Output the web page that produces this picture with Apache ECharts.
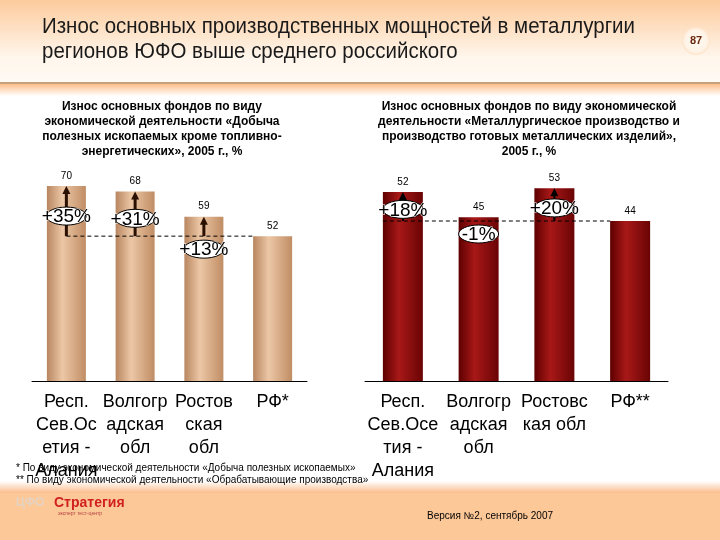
<!DOCTYPE html>
<html><head><meta charset="utf-8">
<script src="https://cdn.jsdelivr.net/npm/echarts@6/dist/echarts.min.js"></script>
<style>html,body{margin:0;padding:0;background:#fff}#c{width:720px;height:540px}</style>
</head><body><div id="c"></div>
<script>
// ---- data ----
const leftCategories = ['Респ.\nСев.Ос\nетия -\nАлания', 'Волгогр\nадская\nобл', 'Ростов\nская\nобл', 'РФ*'];
const leftValues = [70, 68, 59, 52];
const leftPct = ['+35%', '+31%', '+13%'];
const rightCategories = ['Респ.\nСев.Осе\nтия -\nАлания', 'Волгогр\nадская\nобл', 'Ростовс\nкая обл', 'РФ**'];
const rightValues = [52, 45, 53, 44];
const rightPct = ['+18%', '-1%', '+20%'];
const mainTitle = 'Износ основных производственных мощностей в металлургии\nрегионов ЮФО выше среднего российского';
const leftTitle = 'Износ основных фондов по виду\nэкономической деятельности «Добыча\nполезных ископаемых кроме топливно-\nэнергетических», 2005 г., %';
const rightTitle = 'Износ основных фондов по виду экономической\nдеятельности «Металлургическое производство и\nпроизводство готовых металлических изделий»,\n2005 г., %';
const footnotes = ['* По виду экономической деятельности «Добыча полезных ископаемых»', '** По виду экономической деятельности «Обрабатывающие производства»'];
const pageNumber = '87';
const versionText = 'Версия №2, сентябрь 2007';

const chart = echarts.init(document.getElementById('c'));
const FONT = 'Liberation Sans, Arial, sans-serif';

function barGrad(edge1, mid, edge2) {
  return new echarts.graphic.LinearGradient(0, 0, 1, 0, [
    {offset: 0, color: edge1}, {offset: 0.4, color: mid}, {offset: 1, color: edge2}
  ]);
}

const BW = [39, 40];

function annotData(values, pct) {
  const ref = values[values.length - 1];
  return pct.map((p, i) => [i, values[i], ref, p]);
}

function makeAnnot(gridIdx, values, pct, arrowW, arrowColor) {
  return {
    type: 'custom', xAxisIndex: gridIdx, yAxisIndex: gridIdx, z: 5, silent: true,
    data: annotData(values, pct),
    renderItem: function (params, api) {
      const top = api.coord([api.value(0), api.value(1)]);
      const base = api.coord([api.value(0), api.value(2)]);
      const len = base[1] - top[1];
      const children = [];
      if (Math.abs(len) > 6) {
        children.push({type: 'line', shape: {x1: top[0], y1: base[1], x2: top[0], y2: top[1] + 6},
          style: {stroke: arrowColor, lineWidth: arrowW}});
        children.push({type: 'polygon', shape: {points: [[top[0] - 4, top[1] + 8], [top[0] + 4, top[1] + 8], [top[0], top[1]]]},
          style: {fill: arrowColor}});
      }
      let cy = len > 25 ? base[1] - 0.4 * len : base[1] + 13;
      children.push({type: 'ellipse', shape: {cx: top[0], cy: cy, rx: 20, ry: 9},
        style: {fill: '#fff', stroke: '#000', lineWidth: 1}});
      children.push({type: 'text', x: top[0], y: cy + 1, style: {text: api.value(3), font: '19px ' + FONT,
        fill: '#000', align: 'center', verticalAlign: 'middle', stroke: '#fff', lineWidth: 1}});
      return {type: 'group', children: children};
    }
  };
}

function makeDash(gridIdx, values, startAtCenter, bw) {
  const ref = values[values.length - 1];
  return {
    type: 'custom', xAxisIndex: gridIdx, yAxisIndex: gridIdx, z: 4, silent: true,
    data: [[0, values.length - 1, ref]],
    renderItem: function (params, api) {
      const a = api.coord([api.value(0), api.value(2)]);
      const b = api.coord([api.value(1), api.value(2)]);
      const x1 = startAtCenter ? a[0] : a[0] - bw / 2;
      const x2 = b[0] - bw / 2;
      return {type: 'line', shape: {x1: x1, y1: a[1], x2: x2, y2: a[1]},
        style: {stroke: '#000', lineWidth: 1, lineDash: [4, 3]}};
    }
  };
}

const catAxis = (data, grid) => ({
  type: 'category', gridIndex: grid, data: data,
  axisLine: {lineStyle: {color: '#000', width: 1}}, axisTick: {show: false},
  axisLabel: {color: '#000', fontSize: 18, fontFamily: FONT, lineHeight: 23, margin: 10, interval: 0}
});
const valAxis = (grid, max) => ({type: 'value', gridIndex: grid, min: 0, max: max, show: false, splitLine: {show: false}});

chart.setOption({
  animation: false,
  backgroundColor: '#fff',
  title: [
    {text: leftTitle, left: 157, top: 94, textAlign: 'center',
      textStyle: {fontSize: 12, fontWeight: 'bold', fontFamily: FONT, color: '#000', lineHeight: 15, align: 'center'}},
    {text: rightTitle, left: 524, top: 94, textAlign: 'center',
      textStyle: {fontSize: 12, fontWeight: 'bold', fontFamily: FONT, color: '#000', lineHeight: 15, align: 'center'}}
  ],
  grid: [
    {left: 32, width: 275, top: 186, height: 195},
    {left: 365, width: 303, top: 181, height: 200}
  ],
  xAxis: [catAxis(leftCategories, 0), catAxis(rightCategories, 1)],
  yAxis: [valAxis(0, 70), valAxis(1, 55)],
  series: [
    {type: 'bar', xAxisIndex: 0, yAxisIndex: 0, data: leftValues, barWidth: BW[0], z: 2,
      itemStyle: {color: barGrad('#b88660', '#ecc7a6', '#c08d64')},
      label: {show: true, position: 'top', fontSize: 10, color: '#000', fontFamily: FONT}},
    {type: 'bar', xAxisIndex: 1, yAxisIndex: 1, data: rightValues, barWidth: BW[1], z: 2,
      itemStyle: {color: barGrad('#5e0000', '#a81818', '#6a0404')},
      label: {show: true, position: 'top', fontSize: 10, color: '#000', fontFamily: FONT}},
    makeDash(0, leftValues, true, BW[0]),
    makeDash(1, rightValues, false, BW[1]),
    makeAnnot(0, leftValues, leftPct, 3, '#2a1000'),
    makeAnnot(1, rightValues, rightPct, 2, '#000')
  ],
  graphic: [
    {type: 'rect', z: -10, shape: {x: 0, y: 0, width: 720, height: 82},
      style: {fill: new echarts.graphic.LinearGradient(0, 0, 0, 1, [{offset: 0, color: '#fccb9c'}, {offset: 0.7, color: '#fff6ec'}, {offset: 1, color: '#fffaf4'}])}},
    {type: 'rect', z: -10, shape: {x: 0, y: 82, width: 720, height: 2}, style: {fill: '#c9a07c'}},
    {type: 'rect', z: -10, shape: {x: 0, y: 84, width: 720, height: 12},
      style: {fill: new echarts.graphic.LinearGradient(0, 0, 0, 1, [{offset: 0, color: '#fdbf8a'}, {offset: 1, color: '#ffffff'}])}},
    {type: 'rect', z: -10, shape: {x: 0, y: 481, width: 720, height: 12},
      style: {fill: new echarts.graphic.LinearGradient(0, 0, 0, 1, [{offset: 0, color: '#ffffff'}, {offset: 1, color: '#fbbd8c'}])}},
    {type: 'rect', z: -10, shape: {x: 0, y: 493, width: 720, height: 47}, style: {fill: '#fdc898'}},
    {type: 'text', x: 42, y: 14, scaleX: 0.93, style: {text: mainTitle, font: '22px ' + FONT, fill: '#1a1a1a', lineHeight: 25}},
    {type: 'circle', shape: {cx: 696, cy: 41, r: 14},
      style: {fill: new echarts.graphic.RadialGradient(0.5, 0.5, 0.5, [{offset: 0, color: '#fffaf2'}, {offset: 0.8, color: '#fff3e6'}, {offset: 1, color: '#fde2c8'}])}},
    {type: 'text', x: 696, y: 41, style: {text: pageNumber, font: 'bold 11px ' + FONT, fill: '#6b2a10', align: 'center', verticalAlign: 'middle'}},
    {type: 'text', x: 16, y: 463, z: 10, style: {text: footnotes[0], font: '10px ' + FONT, fill: '#000'}},
    {type: 'text', x: 16, y: 475, z: 10, style: {text: footnotes[1], font: '10px ' + FONT, fill: '#000'}},
    {type: 'text', x: 16, y: 497, style: {text: 'ЦФО', font: 'bold 12px ' + FONT, fill: '#e6d2c0'}},
    {type: 'text', x: 54, y: 496, style: {text: 'Стратегия', font: 'bold 14px ' + FONT, fill: '#d02020'}},
    {type: 'text', x: 58, y: 511, style: {text: 'эксперт тест-центр', font: '5px ' + FONT, fill: '#b04040'}},
    {type: 'text', x: 427, y: 511, style: {text: versionText, font: '10px ' + FONT, fill: '#000'}}
  ]
});
</script></body></html>
